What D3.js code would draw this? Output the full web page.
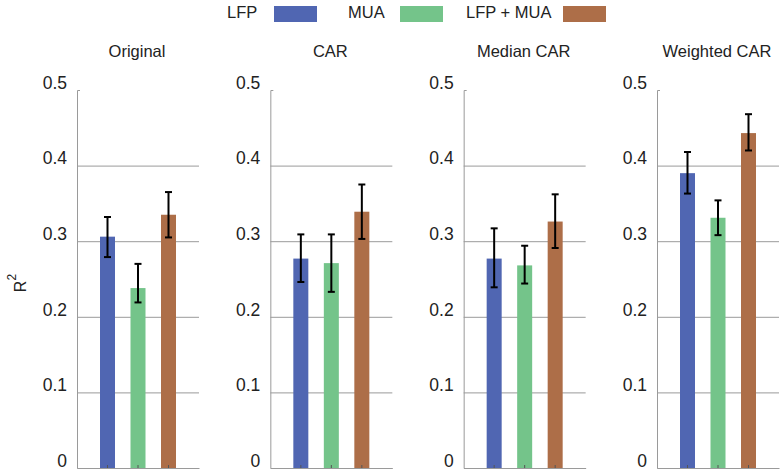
<!DOCTYPE html>
<meta charset="utf-8">
<script src="https://d3js.org/d3.v7.min.js"></script>
<style>
  body { margin: 0; background: #fff; }
  text { font-family: "Liberation Sans", Arial, sans-serif; fill: #222; }
</style>
<body>
<div id="chart"></div>
<script>
// panels and series
var methods = ["Original", "CAR", "Median CAR", "Weighted CAR"];
var series = ["LFP", "MUA", "LFP + MUA"];
var colors = ["#5066b2", "#74c48a", "#ad6e48"];

// mean R^2 per method, with lower / upper error bar ends
var lfp = [0.306, 0.277, 0.277, 0.390];
var lfpLo = [0.279, 0.246, 0.239, 0.363];
var lfpHi = [0.332, 0.309, 0.317, 0.418];

var mua = [0.238, 0.271, 0.268, 0.331];
var muaLo = [0.219, 0.233, 0.244, 0.308];
var muaHi = [0.270, 0.309, 0.294, 0.354];

var both = [0.335, 0.339, 0.326, 0.443];
var bothLo = [0.305, 0.303, 0.291, 0.420];
var bothHi = [0.365, 0.375, 0.362, 0.468];

var yTicks = [0, 0.1, 0.2, 0.3, 0.4, 0.5];

var W = 783, H = 473;
var panelW = 122;

var svg = d3.select("#chart").append("svg")
    .attr("width", W)
    .attr("height", H);

var px = d3.scaleLinear().domain([0, 3]).range([77, 657]);
var x = d3.scaleLinear().domain([0, 4]).range([0, panelW]);
var y = d3.scaleLinear().domain([0, 0.5]).range([468, 90]);

var vals = [lfp, mua, both], los = [lfpLo, muaLo, bothLo], his = [lfpHi, muaHi, bothHi];

methods.forEach(function (m, i) {
  var g = svg.append("g").attr("transform", "translate(" + px(i) + ",0)");

  // grid lines
  g.append("g")
    .call(d3.axisLeft(y).tickValues([0.1, 0.2, 0.3, 0.4]).tickSize(-panelW).tickFormat(""))
    .call(function (s) {
      s.select(".domain").remove();
      s.selectAll(".tick line").attr("stroke", "#9a9a9a");
    });

  // y axis
  g.append("g")
    .call(d3.axisLeft(y).tickValues(yTicks).tickSizeInner(0).tickSizeOuter(-3)
      .tickPadding(10).tickFormat(function (d) { return d === 0 ? "0" : d3.format(".1f")(d); }))
    .call(function (s) {
      s.select(".domain").attr("stroke", "#9a9a9a");
      s.selectAll(".tick text")
        .attr("dy", "-0.1em")
        .style("font-size", "17.5px")
        .style("fill", "#222");
    });

  // bottom axis
  g.append("g")
    .attr("transform", "translate(0," + y(0) + ")")
    .call(d3.axisBottom(x).tickValues([1, 2, 3]).tickSizeInner(-3).tickSizeOuter(0).tickFormat(""))
    .call(function (s) {
      s.select(".domain").attr("stroke", "#9a9a9a");
      s.selectAll(".tick line").attr("stroke", "#555");
    });

  // bars
  var rows = series.map(function (s, k) {
    return { k: k, v: vals[k][i], lo: los[k][i], hi: his[k][i] };
  });

  g.selectAll("rect.bar")
    .data(rows)
    .enter().append("rect")
      .attr("class", "bar")
      .attr("x", function (d) { return x(d.k + 1) - 7.5; })
      .attr("width", 15)
      .attr("y", function (d) { return y(d.v); })
      .attr("height", function (d) { return y(0) - y(d.v); })
      .attr("fill", function (d) { return colors[d.k]; });

  // redraw the small bottom ticks on top of bars
  g.selectAll("line.bt")
    .data(rows)
    .enter().append("line")
      .attr("x1", function (d) { return x(d.k + 1); })
      .attr("x2", function (d) { return x(d.k + 1); })
      .attr("y1", y(0))
      .attr("y2", y(0) - 3)
      .attr("stroke", "#555");

  // error bars
  var eb = g.selectAll("g.err").data(rows).enter().append("g")
      .attr("stroke", "#000").attr("stroke-width", 2);
  eb.append("line")
    .attr("x1", function (d) { return x(d.k + 1); })
    .attr("x2", function (d) { return x(d.k + 1); })
    .attr("y1", function (d) { return y(d.lo); })
    .attr("y2", function (d) { return y(d.hi); });
  eb.append("line")
    .attr("x1", function (d) { return x(d.k + 1) - 3.5; })
    .attr("x2", function (d) { return x(d.k + 1) + 3.5; })
    .attr("y1", function (d) { return y(d.hi); })
    .attr("y2", function (d) { return y(d.hi); });
  eb.append("line")
    .attr("x1", function (d) { return x(d.k + 1) - 3.5; })
    .attr("x2", function (d) { return x(d.k + 1) + 3.5; })
    .attr("y1", function (d) { return y(d.lo); })
    .attr("y2", function (d) { return y(d.lo); });

  // panel title
  g.append("text")
    .attr("x", 60)
    .attr("y", 57)
    .attr("text-anchor", "middle")
    .style("font-size", "16.5px")
    .text(m);
});

// y label
var yl = svg.append("text")
  .attr("transform", "translate(26,283) rotate(-90)")
  .attr("text-anchor", "middle")
  .style("font-size", "16px");
yl.append("tspan").text("R");
yl.append("tspan").attr("dy", "-0.85em").style("font-size", "12px").text("2");

// legend
var legX = [227, 348, 466];
var rectX = [274, 400, 563];
series.forEach(function (s, k) {
  svg.append("text")
    .attr("x", legX[k])
    .attr("y", 18)
    .style("font-size", "16.5px")
    .text(s);
  svg.append("rect")
    .attr("x", rectX[k])
    .attr("y", 6)
    .attr("width", 43)
    .attr("height", 16)
    .attr("fill", colors[k]);
});
</script>
</body>
